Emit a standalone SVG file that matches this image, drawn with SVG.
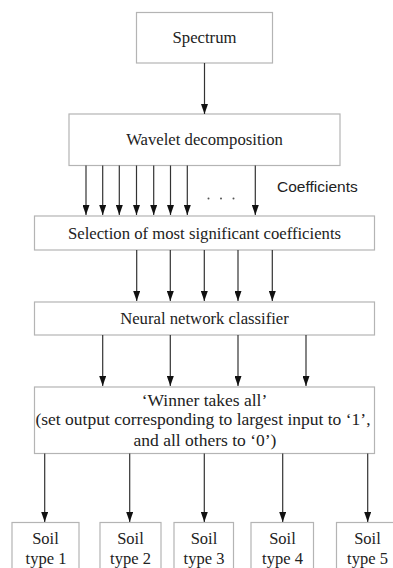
<svg xmlns="http://www.w3.org/2000/svg" width="393" height="568" viewBox="0 0 393 568">
<defs>
<marker id="ah" markerWidth="10" markerHeight="7" refX="10" refY="3.5" orient="auto" markerUnits="userSpaceOnUse" viewBox="0 0 10 7">
<path d="M0,0 L10,3.5 L0,7 Z" fill="#111"/>
</marker>
<style>
.box{fill:#fff;stroke:#b4b4b4;stroke-width:1.2}
.t{font-family:"Liberation Serif","Times New Roman",serif;font-size:16.7px;fill:#222;text-anchor:middle}
.w{font-size:17.5px}
.so{font-size:16.5px}
.s{font-family:"Liberation Sans",Arial,sans-serif;font-size:15.5px;fill:#222}
.c line{stroke:#333;stroke-width:1.2;marker-end:url(#ah)}
</style>
</defs>
<rect width="393" height="568" fill="#fff"/>
<g id="spectrum"><rect class="box" x="136.5" y="12.5" width="136" height="50.5"/><text class="t" x="204.5" y="42.5">Spectrum</text></g>
<g id="wavelet"><rect class="box" x="69" y="114" width="271" height="51.5"/><text class="t" x="204.5" y="145">Wavelet decomposition</text></g>
<g id="selection"><rect class="box" x="34.5" y="216" width="340" height="34"/><text class="t" x="204.5" y="238.5">Selection of most significant coefficients</text></g>
<g id="neural"><rect class="box" x="34.5" y="302" width="340" height="33"/><text class="t" x="204.5" y="323.5">Neural network classifier</text></g>
<g id="winner"><rect class="box" x="34.5" y="387" width="340" height="66.5"/>
<text class="t w" x="204.5" y="405.5">‘Winner takes all’</text>
<text class="t w" x="203" y="424.5">(set output corresponding to largest input to ‘1’,</text>
<text class="t w" x="205" y="445.5">and all others to ‘0’)</text></g>
<g id="soil1"><rect class="box" x="12" y="522.5" width="67" height="50"/><text class="t so" x="45.5" y="544">Soil</text><text class="t so" x="46" y="564">type 1</text></g>
<g id="soil2"><rect class="box" x="100" y="522.5" width="61" height="50"/><text class="t so" x="130.5" y="544">Soil</text><text class="t so" x="130.5" y="564">type 2</text></g>
<g id="soil3"><rect class="box" x="174" y="522.5" width="59.5" height="50"/><text class="t so" x="204" y="544">Soil</text><text class="t so" x="204" y="564">type 3</text></g>
<g id="soil4"><rect class="box" x="251" y="522.5" width="62.5" height="50"/><text class="t so" x="282.5" y="544">Soil</text><text class="t so" x="282.5" y="564">type 4</text></g>
<g id="soil5"><rect class="box" x="336.5" y="522.5" width="62" height="50"/><text class="t so" x="367.5" y="544">Soil</text><text class="t so" x="367.5" y="564">type 5</text></g>
<text class="s" x="277" y="192">Coefficients</text>
<g id="dots" fill="#555"><circle cx="208.5" cy="198.5" r="1"/><circle cx="221" cy="198.5" r="1"/><circle cx="233.5" cy="198.5" r="1"/></g>
<g id="connectors" class="c">
<line x1="204.5" y1="63" x2="204.5" y2="114"/>
<line x1="86" y1="165.5" x2="86" y2="215"/>
<line x1="102.7" y1="165.5" x2="102.7" y2="215"/>
<line x1="119.3" y1="165.5" x2="119.3" y2="215"/>
<line x1="136.5" y1="165.5" x2="136.5" y2="215"/>
<line x1="153.7" y1="165.5" x2="153.7" y2="215"/>
<line x1="170.5" y1="165.5" x2="170.5" y2="215"/>
<line x1="187.3" y1="165.5" x2="187.3" y2="215"/>
<line x1="255.3" y1="165.5" x2="255.3" y2="215"/>
<line x1="136.7" y1="250" x2="136.7" y2="301"/>
<line x1="170.3" y1="250" x2="170.3" y2="301"/>
<line x1="204.3" y1="250" x2="204.3" y2="301"/>
<line x1="238" y1="250" x2="238" y2="301"/>
<line x1="272.3" y1="250" x2="272.3" y2="301"/>
<line x1="102.7" y1="335" x2="102.7" y2="386"/>
<line x1="170.3" y1="335" x2="170.3" y2="386"/>
<line x1="238" y1="335" x2="238" y2="386"/>
<line x1="306" y1="335" x2="306" y2="386"/>
<line x1="44.7" y1="453.5" x2="44.7" y2="522"/>
<line x1="129.7" y1="453.5" x2="129.7" y2="522"/>
<line x1="204.3" y1="453.5" x2="204.3" y2="522"/>
<line x1="282.7" y1="453.5" x2="282.7" y2="522"/>
<line x1="367.7" y1="453.5" x2="367.7" y2="522"/>
</g>
</svg>
